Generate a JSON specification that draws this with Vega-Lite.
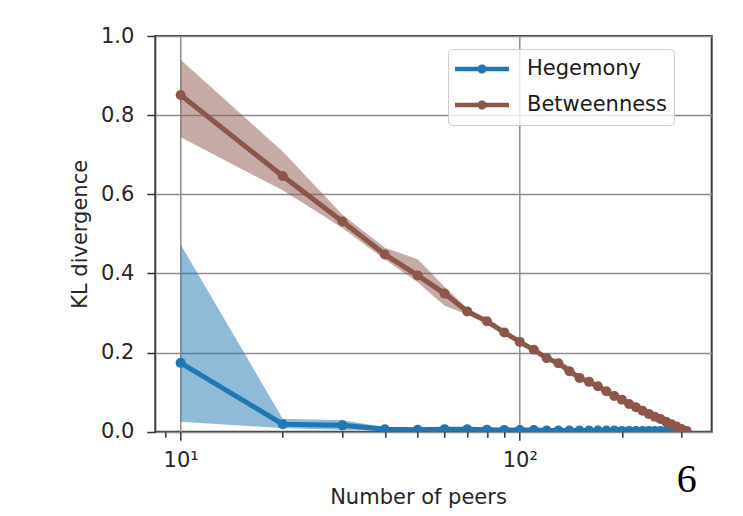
{
  "$schema": "https://vega.github.io/schema/vega-lite/v6.json",
  "width": 556.4,
  "height": 395.7,
  "autosize": {"type": "none"},
  "padding": {"left": 155.3, "top": 36, "right": 31.3, "bottom": 84.3},
  "background": "white",
  "config": {
    "view": {"stroke": "#3a3a3a", "strokeWidth": 2},
    "font": "DejaVu Sans",
    "axis": {
      "domain": false,
      "grid": true,
      "gridColor": "#8c8c8c",
      "gridWidth": 1.5,
      "tickColor": "#333333",
      "tickWidth": 1.5,
      "labelFont": "DejaVu Sans",
      "labelFontSize": 21,
      "labelColor": "#262626",
      "titleFont": "DejaVu Sans",
      "titleFontSize": 21,
      "titleFontWeight": "normal",
      "titleColor": "#262626"
    }
  },
  "title": {
    "text": "6",
    "orient": "bottom",
    "anchor": "end",
    "font": "Liberation Serif",
    "fontSize": 40,
    "fontWeight": "normal",
    "color": "#000000",
    "offset": -47,
    "dx": -15
  },
  "data": {
    "values": [
      {"p": 10, "s": "Hegemony", "m": 0.174, "lo": 0.025, "hi": 0.473},
      {"p": 20, "s": "Hegemony", "m": 0.019, "lo": 0.009, "hi": 0.033},
      {"p": 30, "s": "Hegemony", "m": 0.016, "lo": 0.005, "hi": 0.029},
      {"p": 40, "s": "Hegemony", "m": 0.006, "lo": 0.003, "hi": 0.012},
      {"p": 50, "s": "Hegemony", "m": 0.005, "lo": 0.003, "hi": 0.010},
      {"p": 60, "s": "Hegemony", "m": 0.006, "lo": 0.003, "hi": 0.010},
      {"p": 70, "s": "Hegemony", "m": 0.006, "lo": 0.003, "hi": 0.009},
      {"p": 80, "s": "Hegemony", "m": 0.005, "lo": 0.003, "hi": 0.008},
      {"p": 90, "s": "Hegemony", "m": 0.004, "lo": 0.002, "hi": 0.007},
      {"p": 100, "s": "Hegemony", "m": 0.004, "lo": 0.002, "hi": 0.007},
      {"p": 110, "s": "Hegemony", "m": 0.004, "lo": 0.002, "hi": 0.006},
      {"p": 120, "s": "Hegemony", "m": 0.003, "lo": 0.002, "hi": 0.006},
      {"p": 130, "s": "Hegemony", "m": 0.003, "lo": 0.002, "hi": 0.005},
      {"p": 140, "s": "Hegemony", "m": 0.003, "lo": 0.002, "hi": 0.005},
      {"p": 150, "s": "Hegemony", "m": 0.003, "lo": 0.002, "hi": 0.005},
      {"p": 160, "s": "Hegemony", "m": 0.003, "lo": 0.002, "hi": 0.005},
      {"p": 170, "s": "Hegemony", "m": 0.003, "lo": 0.001, "hi": 0.005},
      {"p": 180, "s": "Hegemony", "m": 0.003, "lo": 0.001, "hi": 0.004},
      {"p": 190, "s": "Hegemony", "m": 0.003, "lo": 0.001, "hi": 0.004},
      {"p": 200, "s": "Hegemony", "m": 0.002, "lo": 0.001, "hi": 0.004},
      {"p": 210, "s": "Hegemony", "m": 0.002, "lo": 0.001, "hi": 0.004},
      {"p": 220, "s": "Hegemony", "m": 0.002, "lo": 0.001, "hi": 0.004},
      {"p": 230, "s": "Hegemony", "m": 0.002, "lo": 0.001, "hi": 0.004},
      {"p": 240, "s": "Hegemony", "m": 0.002, "lo": 0.001, "hi": 0.003},
      {"p": 250, "s": "Hegemony", "m": 0.002, "lo": 0.001, "hi": 0.003},
      {"p": 260, "s": "Hegemony", "m": 0.002, "lo": 0.001, "hi": 0.003},
      {"p": 270, "s": "Hegemony", "m": 0.002, "lo": 0.001, "hi": 0.003},
      {"p": 280, "s": "Hegemony", "m": 0.002, "lo": 0.001, "hi": 0.003},
      {"p": 290, "s": "Hegemony", "m": 0.002, "lo": 0.001, "hi": 0.003},
      {"p": 300, "s": "Hegemony", "m": 0.002, "lo": 0.001, "hi": 0.003},
      {"p": 310, "s": "Hegemony", "m": 0.002, "lo": 0.001, "hi": 0.003},
      {"p": 10, "s": "Betweenness", "m": 0.851, "lo": 0.744, "hi": 0.940},
      {"p": 20, "s": "Betweenness", "m": 0.646, "lo": 0.610, "hi": 0.708},
      {"p": 30, "s": "Betweenness", "m": 0.531, "lo": 0.515, "hi": 0.548},
      {"p": 40, "s": "Betweenness", "m": 0.448, "lo": 0.435, "hi": 0.465},
      {"p": 50, "s": "Betweenness", "m": 0.395, "lo": 0.378, "hi": 0.436},
      {"p": 60, "s": "Betweenness", "m": 0.349, "lo": 0.318, "hi": 0.366},
      {"p": 70, "s": "Betweenness", "m": 0.304, "lo": 0.296, "hi": 0.312},
      {"p": 80, "s": "Betweenness", "m": 0.279, "lo": 0.273, "hi": 0.285},
      {"p": 90, "s": "Betweenness", "m": 0.251, "lo": 0.245, "hi": 0.258},
      {"p": 100, "s": "Betweenness", "m": 0.227, "lo": 0.222, "hi": 0.232},
      {"p": 110, "s": "Betweenness", "m": 0.207, "lo": 0.202, "hi": 0.212},
      {"p": 120, "s": "Betweenness", "m": 0.186, "lo": 0.181, "hi": 0.191},
      {"p": 130, "s": "Betweenness", "m": 0.173, "lo": 0.168, "hi": 0.179},
      {"p": 140, "s": "Betweenness", "m": 0.153, "lo": 0.148, "hi": 0.165},
      {"p": 150, "s": "Betweenness", "m": 0.136, "lo": 0.131, "hi": 0.142},
      {"p": 160, "s": "Betweenness", "m": 0.126, "lo": 0.122, "hi": 0.130},
      {"p": 170, "s": "Betweenness", "m": 0.115, "lo": 0.111, "hi": 0.119},
      {"p": 180, "s": "Betweenness", "m": 0.102, "lo": 0.098, "hi": 0.106},
      {"p": 190, "s": "Betweenness", "m": 0.090, "lo": 0.086, "hi": 0.094},
      {"p": 200, "s": "Betweenness", "m": 0.081, "lo": 0.077, "hi": 0.085},
      {"p": 210, "s": "Betweenness", "m": 0.070, "lo": 0.066, "hi": 0.074},
      {"p": 220, "s": "Betweenness", "m": 0.062, "lo": 0.058, "hi": 0.066},
      {"p": 230, "s": "Betweenness", "m": 0.053, "lo": 0.050, "hi": 0.057},
      {"p": 240, "s": "Betweenness", "m": 0.045, "lo": 0.042, "hi": 0.048},
      {"p": 250, "s": "Betweenness", "m": 0.038, "lo": 0.035, "hi": 0.041},
      {"p": 260, "s": "Betweenness", "m": 0.032, "lo": 0.029, "hi": 0.035},
      {"p": 270, "s": "Betweenness", "m": 0.025, "lo": 0.022, "hi": 0.028},
      {"p": 280, "s": "Betweenness", "m": 0.019, "lo": 0.016, "hi": 0.022},
      {"p": 290, "s": "Betweenness", "m": 0.013, "lo": 0.010, "hi": 0.016},
      {"p": 300, "s": "Betweenness", "m": 0.007, "lo": 0.004, "hi": 0.010},
      {"p": 310, "s": "Betweenness", "m": 0.002, "lo": 0.000, "hi": 0.004}
    ]
  },
  "encoding": {
    "x": {
      "field": "p",
      "type": "quantitative",
      "scale": {"type": "log", "domain": [8.42, 368], "nice": false, "zero": false},
      "axis": {
        "values": [9, 10, 20, 30, 40, 50, 60, 70, 80, 90, 100, 200, 300],
        "labelExpr": "datum.value == 10 ? '10¹' : (datum.value == 100 ? '10²' : '')",
        "tickSize": {"condition": {"test": "datum.value == 10 || datum.value == 100", "value": 8.5}, "value": 5.5},
        "gridOpacity": {"condition": {"test": "datum.value == 10 || datum.value == 100", "value": 1}, "value": 0},
        "labelPadding": 9,
        "labelOverlap": false,
        "labelBound": false,
        "labelFlush": false,
        "title": "Number of peers",
        "titlePadding": 16,
        "titleX": 262.7
      }
    }
  },
  "layer": [
    {
      "transform": [{"filter": "datum.s == 'Hegemony'"}],
      "mark": {"type": "area", "color": "#1f77b4", "fillOpacity": 0.5, "clip": true},
      "encoding": {
        "y": {
          "field": "lo",
          "type": "quantitative",
          "scale": {"domain": [0, 1], "nice": false, "zero": false},
          "axis": {
            "values": [0, 0.2, 0.4, 0.6, 0.8, 1.0],
            "format": ".1f",
            "tickSize": 8.5,
            "labelPadding": 13,
            "title": "KL divergence",
            "titlePadding": 10
          }
        },
        "y2": {"field": "hi"}
      }
    },
    {
      "transform": [{"filter": "datum.s == 'Betweenness'"}],
      "mark": {"type": "area", "color": "#8c564b", "fillOpacity": 0.5, "clip": true},
      "encoding": {
        "y": {"field": "lo", "type": "quantitative", "title": "KL divergence"},
        "y2": {"field": "hi"}
      }
    },
    {
      "transform": [{"filter": "datum.s == 'Hegemony'"}],
      "mark": {"type": "line", "strokeWidth": 5, "clip": true, "point": {"filled": true, "size": 100, "clip": true}},
      "encoding": {
        "y": {"field": "m", "type": "quantitative", "title": "KL divergence"},
        "color": {
          "field": "s",
          "type": "nominal",
          "scale": {"domain": ["Hegemony", "Betweenness"], "range": ["#1f77b4", "#8c564b"]},
          "legend": {
            "title": null,
            "orient": "none",
            "legendX": 292.7,
            "legendY": 13,
            "symbolType": "M-1,-0.08H1V0.08H-1Z M-0.17,0A0.17,0.17 0 1 1 0.17,0A0.17,0.17 0 1 1 -0.17,0Z",
            "symbolSize": 2916,
            "symbolStrokeWidth": 0,
            "symbolOpacity": 1,
            "labelFont": "DejaVu Sans",
            "labelFontSize": 21,
            "labelColor": "#1a1a1a",
            "labelOffset": 18,
            "padding": 7,
            "clipHeight": 26,
            "rowPadding": 10,
            "strokeColor": "#cccccc",
            "fillColor": "rgba(255,255,255,0.8)",
            "cornerRadius": 4,
            "encode": {"symbols": {"update": {"fill": {"scale": "color", "field": "value"}, "stroke": {"value": "transparent"}}}}
          }
        }
      }
    },
    {
      "transform": [{"filter": "datum.s == 'Betweenness'"}],
      "mark": {"type": "line", "strokeWidth": 5, "clip": true, "point": {"filled": true, "size": 100, "clip": true}},
      "encoding": {
        "y": {"field": "m", "type": "quantitative", "title": "KL divergence"},
        "color": {
          "field": "s",
          "type": "nominal",
          "scale": {"domain": ["Hegemony", "Betweenness"], "range": ["#1f77b4", "#8c564b"]}
        }
      }
    }
  ]
}
